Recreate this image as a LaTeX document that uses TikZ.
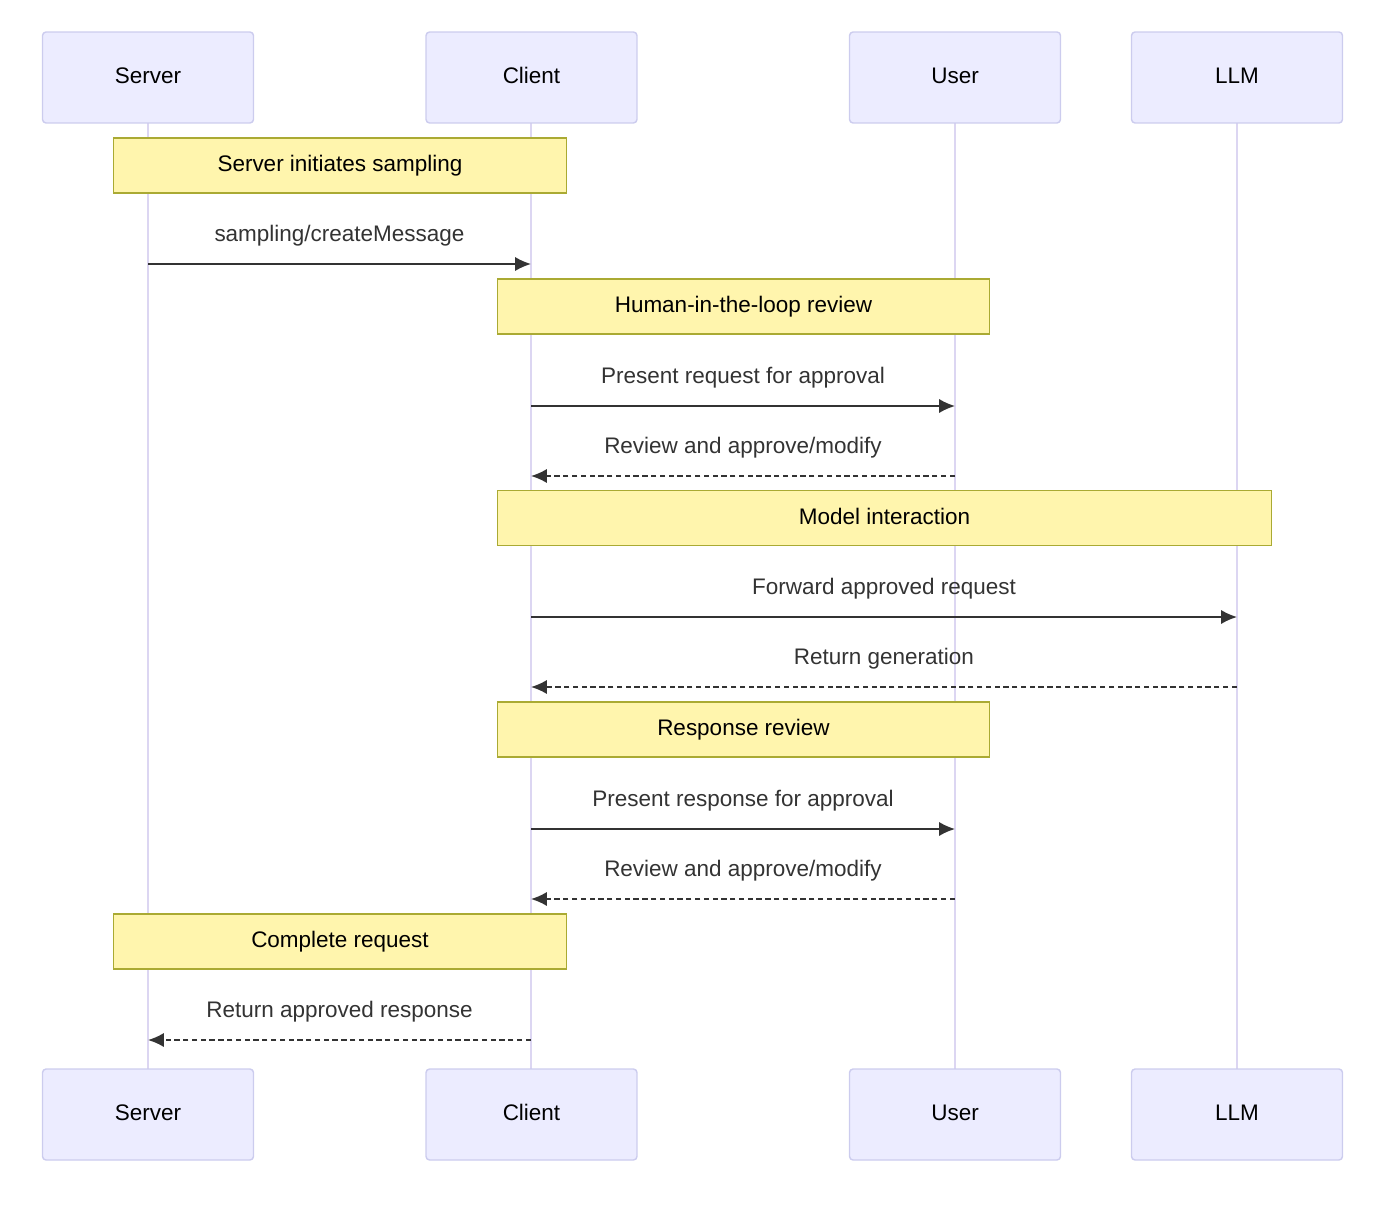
\documentclass[tikz,border=0pt]{standalone}
\usepackage{fontspec}
\setmainfont{Liberation Sans}
\usetikzlibrary{arrows.meta}
\definecolor{actfill}{HTML}{ECECFF}
\definecolor{actline}{HTML}{CCCCEE}
\definecolor{lifeline}{HTML}{DCD6F2}
\definecolor{notefill}{HTML}{FFF5AD}
\definecolor{noteline}{HTML}{AAAA33}
\definecolor{msgcol}{HTML}{333333}
\begin{document}
\begin{tikzpicture}[x=0.02cm, y=-0.02cm,
                    actor/.style={draw=actline, fill=actfill, rounded corners=2pt, line width=0.8pt,
                                  minimum width=4.22cm, minimum height=1.82cm, text height=9pt, text depth=2pt,
                                  font=\fontsize{12.8}{15}\selectfont},
                    note/.style={draw=noteline, fill=notefill, line width=0.6pt, text height=9pt, text depth=2pt,
                                 minimum height=1.1cm, font=\fontsize{12.8}{15}\selectfont},
                    msg/.style={msgcol, line width=0.9pt, -{Latex[length=9pt,width=8pt]}},
                    reply/.style={msg, dash pattern=on 3pt off 2pt},
                    lbl/.style={font=\fontsize{12.8}{15}\selectfont, text=msgcol}]

  \useasboundingbox (0,0) rectangle (1392,1206);

  % lifelines
  \foreach \x in {148, 531, 955, 1237}
    \draw[lifeline, line width=1.3pt] (\x,123) -- (\x,1069);

  % actors
  \node[actor] (server) at (148, 77.5) {Server};
  \node[actor] (client) at (531.5, 77.5) {Client};
  \node[actor] (user) at (955, 77.5) {User};
  \node[actor] (llm) at (1237, 77.5) {LLM};
  \node[actor] (server2) at (148, 1114.5) {Server};
  \node[actor] (client2) at (531.5, 1114.5) {Client};
  \node[actor] (user2) at (955, 1114.5) {User};
  \node[actor] (llm2) at (1237, 1114.5) {LLM};

  % notes
  \node[note, minimum width=9.08cm] (n1) at (340, 165.5) {Server initiates sampling};
  \node[note, minimum width=9.86cm] (n2) at (743.5, 306.5) {Human-in-the-loop review};
  \node[note, minimum width=15.5cm] (n3) at (884.5, 518) {Model interaction};
  \node[note, minimum width=9.86cm] (n4) at (743.5, 729.5) {Response review};
  \node[note, minimum width=9.08cm] (n5) at (340, 941.5) {Complete request};

  % message end points
  \coordinate (s1) at (148, 264);  \coordinate (c1) at (531, 264);
  \coordinate (c2) at (531, 406);  \coordinate (u2) at (955, 406);
  \coordinate (c3) at (531, 476);  \coordinate (u3) at (955, 476);
  \coordinate (c4) at (531, 617);  \coordinate (l4) at (1237, 617);
  \coordinate (c5) at (531, 687);  \coordinate (l5) at (1237, 687);
  \coordinate (c6) at (531, 829);  \coordinate (u6) at (955, 829);
  \coordinate (c7) at (531, 899);  \coordinate (u7) at (955, 899);
  \coordinate (c8) at (531, 1040); \coordinate (s8) at (148, 1040);

  \draw[msg] (s1) -- (c1) node[lbl, midway, yshift=0.56cm] {sampling/createMessage};
  \draw[msg] (c2) -- (u2) node[lbl, midway, yshift=0.56cm] {Present request for approval};
  \draw[reply] (u3) -- (c3) node[lbl, midway, yshift=0.56cm] {Review and approve/modify};
  \draw[msg] (c4) -- (l4) node[lbl, midway, yshift=0.56cm] {Forward approved request};
  \draw[reply] (l5) -- (c5) node[lbl, midway, yshift=0.56cm] {Return generation};
  \draw[msg] (c6) -- (u6) node[lbl, midway, yshift=0.56cm] {Present response for approval};
  \draw[reply] (u7) -- (c7) node[lbl, midway, yshift=0.56cm] {Review and approve/modify};
  \draw[reply] (c8) -- (s8) node[lbl, midway, yshift=0.56cm] {Return approved response};

\end{tikzpicture}
\end{document}
